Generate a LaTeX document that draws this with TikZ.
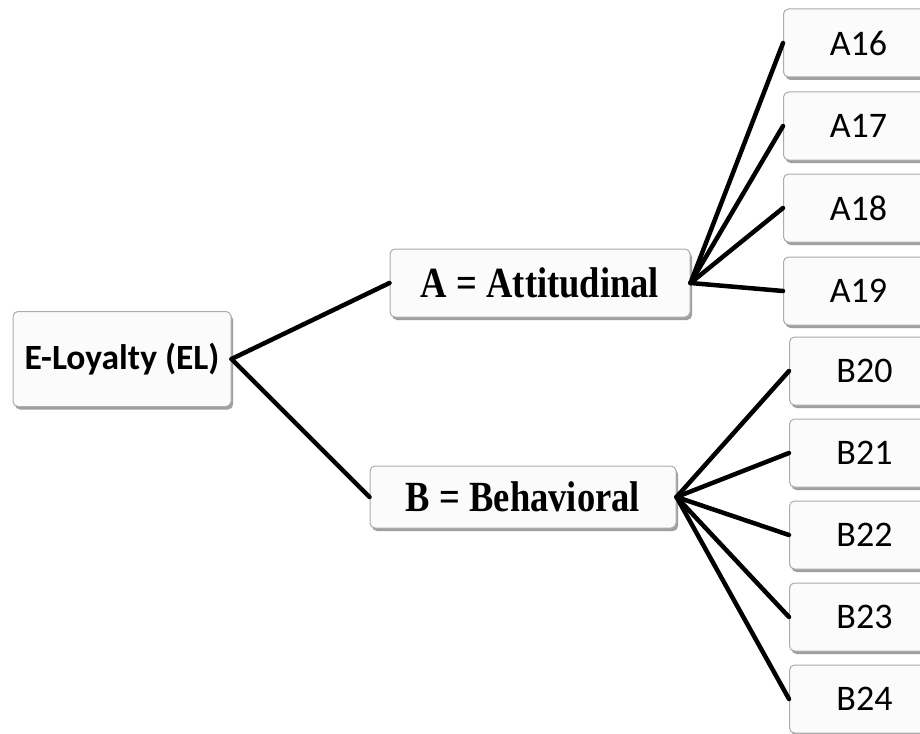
\documentclass[tikz,border=0pt]{standalone}
\usepackage{fontspec}
\usetikzlibrary{shadows}
\newfontfamily\carlfont{Carlito}
\newfontfamily\timesfont{Liberation Serif}
\begin{document}
\begin{tikzpicture}[x=1pt,y=-1pt,
  box/.style={draw=gray!65, line width=1pt, fill=white!97!gray, rounded corners=5pt,
    drop shadow={shadow xshift=2pt, shadow yshift=-3pt, fill=gray!75, opacity=1},
    inner sep=0pt},
  leaf/.style={box, minimum width=150pt, minimum height=68pt, anchor=west,
    font=\carlfont\fontsize{36}{40}\selectfont},
  link/.style={line width=4.5pt, line cap=round}]
\clip (0,0) rectangle (920,733);
\fill[white] (0,0) rectangle (920,733);

% root and the two dimensions
\node[box, minimum width=218pt, minimum height=95pt,
  font=\carlfont\bfseries\fontsize{35.5}{40}\selectfont] (el) at (122,359) {E-Loyalty (EL)};
\node[box, minimum width=300pt, minimum height=68pt,
  font=\timesfont\bfseries\fontsize{43}{46}\selectfont] (att) at (540,283)
  {\scalebox{0.85}[1]{A = Attitudinal}};
\node[box, minimum width=306pt, minimum height=62pt,
  font=\timesfont\bfseries\fontsize{43}{46}\selectfont] (beh) at (523,497)
  {\scalebox{0.85}[1]{B = Behavioral}};

% attitudinal items
\node[leaf] (a16) at (783,43)  {A16};
\node[leaf] (a17) at (783,126) {A17};
\node[leaf] (a18) at (783,208) {A18};
\node[leaf] (a19) at (783,291) {A19};

% behavioral items
\node[leaf] (b20) at (789,371) {B20};
\node[leaf] (b21) at (789,453) {B21};
\node[leaf] (b22) at (789,535) {B22};
\node[leaf] (b23) at (789,617) {B23};
\node[leaf] (b24) at (789,699) {B24};

% connectors
\draw[link] (el.east) -- (att.west);
\draw[link] (el.east) -- (beh.west);
\foreach \n in {a16,a17,a18,a19} \draw[link] (att.east) -- (\n.west);
\foreach \n in {b20,b21,b22,b23,b24} \draw[link] (beh.east) -- (\n.west);
\end{tikzpicture}
\end{document}
